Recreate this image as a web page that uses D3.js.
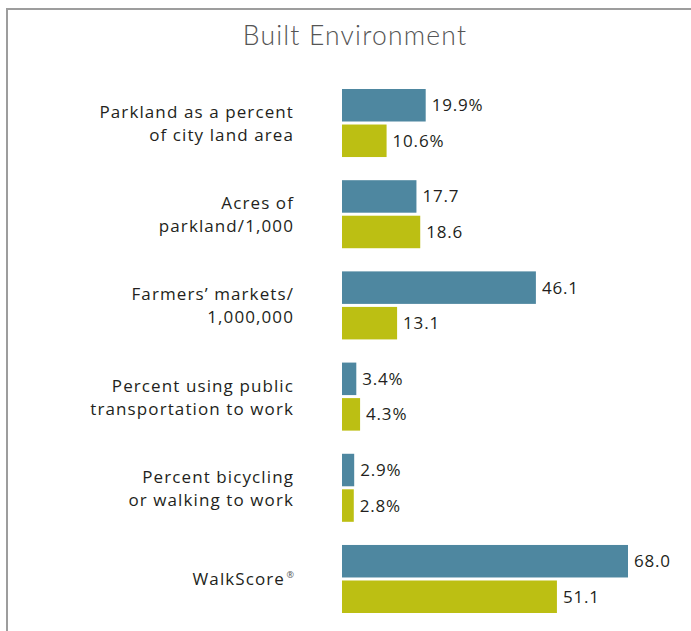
<!DOCTYPE html>
<html>
<head>
<meta charset="utf-8">
<script src="https://cdn.jsdelivr.net/npm/d3@7"></script>
<style>
  body { margin: 0; background: #fff; }
  svg { display: block; }
</style>
</head>
<body>
<div id="chart"></div>
<script>
// データ
const categories = [
  ["Parkland as a percent", "of city land area"],
  ["Acres of", "parkland/1,000"],
  ["Farmers\u2019 markets/", "1,000,000"],
  ["Percent using public", "transportation to work"],
  ["Percent bicycling", "or walking to work"],
  ["WalkScore"]
];
const seriesA = [19.9, 17.7, 46.1, 3.4, 2.9, 68.0];
const seriesB = [10.6, 18.6, 13.1, 4.3, 2.8, 51.1];
const valueSuffix = ["%", "", "", "%", "%", ""];
const seriesNames = ["a", "b"];
const colors = ["#4e87a0", "#bcbf13"];

const width = 691;
const height = 631;

const svg = d3.select('#chart')
  .append('svg')
  .attr('width', width)
  .attr('height', height);

// 枠線
svg.append('rect')
  .attr('x', 7)
  .attr('y', 9)
  .attr('width', 800)
  .attr('height', 800)
  .attr('fill', 'none')
  .attr('stroke', '#9d9d9d')
  .attr('stroke-width', 2);

// タイトル
svg.append('text')
  .attr('x', 355)
  .attr('y', 45)
  .attr('text-anchor', 'middle')
  .attr('font-family', 'Lato, "Open Sans", sans-serif')
  .attr('font-weight', 300)
  .attr('font-size', 26.5)
  .attr('letter-spacing', 1.2)
  .attr('fill', '#555')
  .text('Built Environment');

// スケール
const x = d3.scaleLinear().domain([0, 68]).range([0, 286]);
const x0 = 342;

const y = d3.scaleBand()
  .domain(d3.range(categories.length))
  .range([89, 613])
  .paddingInner(0.254)
  .paddingOuter(0);

const ySub = d3.scaleBand()
  .domain(seriesNames)
  .range([0, y.bandwidth()])
  .paddingInner(0.085);

const rows = categories.map((c, i) => ({
  label: c,
  values: [seriesA[i], seriesB[i]],
  suffix: valueSuffix[i],
  i: i
}));

const group = svg.selectAll('.group')
  .data(rows)
  .enter()
  .append('g')
  .attr('class', 'group')
  .attr('transform', d => 'translate(0,' + y(d.i) + ')');

// 棒
group.selectAll('rect')
  .data(d => d.values.map((v, k) => ({v: v, k: k, suffix: d.suffix})))
  .enter()
  .append('rect')
  .attr('x', x0)
  .attr('y', d => ySub(seriesNames[d.k]))
  .attr('width', d => x(d.v))
  .attr('height', ySub.bandwidth())
  .attr('fill', d => colors[d.k]);

// 値ラベル
group.selectAll('.val')
  .data(d => d.values.map((v, k) => ({v: v, k: k, suffix: d.suffix})))
  .enter()
  .append('text')
  .attr('class', 'val')
  .attr('x', d => x0 + x(d.v) + 6)
  .attr('y', d => ySub(seriesNames[d.k]) + ySub.bandwidth() / 2 + 6)
  .attr('font-family', '"Open Sans", sans-serif')
  .attr('font-size', 17)
  .attr('letter-spacing', 0.8)
  .attr('fill', '#231f20')
  .text(d => d.v.toFixed(1) + d.suffix);

// カテゴリラベル
const labels = group.append('text')
  .attr('text-anchor', 'end')
  .attr('font-family', '"Open Sans", sans-serif')
  .attr('font-size', 17)
  .attr('letter-spacing', 1.1)
  .attr('fill', '#231f20');

labels.each(function(d) {
  const t = d3.select(this);
  const mid = y.bandwidth() / 2;
  if (d.label.length === 2) {
    t.append('tspan').attr('x', 294).attr('y', mid - 5).text(d.label[0]);
    t.append('tspan').attr('x', 294).attr('y', mid + 18).text(d.label[1]);
  } else {
    t.append('tspan').attr('x', 285).attr('y', mid + 6).text(d.label[0]);
    t.append('tspan').attr('x', 294).attr('y', mid - 1)
      .attr('font-size', 9).attr('letter-spacing', 0).attr('fill', '#555').text('\u00AE');
  }
});
</script>
</body>
</html>
